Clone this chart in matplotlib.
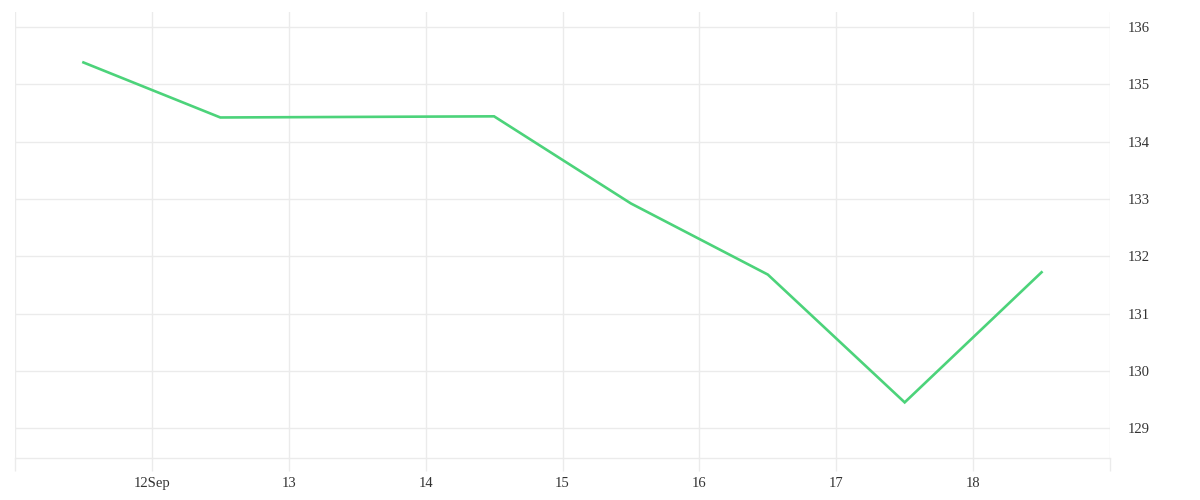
import matplotlib
matplotlib.use("Agg")
import matplotlib.pyplot as plt
import matplotlib.dates as mdates
import numpy as np
from datetime import datetime

# Data
dates = ["2023-09-11 12:00", "2023-09-12 12:00", "2023-09-13 12:00", "2023-09-14 12:00",
         "2023-09-15 12:00", "2023-09-16 12:00", "2023-09-17 12:00", "2023-09-18 12:00"]
values = [135.38, 134.42, 134.43, 134.44, 132.92, 131.68, 129.45, 131.72]
tick_days = ["2023-09-11", "2023-09-12", "2023-09-13", "2023-09-14", "2023-09-15",
             "2023-09-16", "2023-09-17", "2023-09-18", "2023-09-19"]
tick_labels = ["", "12Sep", "13", "14", "15", "16", "17", "18", ""]
y_ticks = [129, 130, 131, 132, 133, 134, 135, 136]

plt.rcParams['font.family'] = ['Liberation Serif', 'DejaVu Serif']

W, H = 1200, 500
fig = plt.figure(figsize=(W / 100, H / 100), dpi=100)
ax = fig.add_axes([15 / W, (H - 458) / H, (1110 - 15) / W, (458 - 12) / H])

x = [datetime.strptime(d, "%Y-%m-%d %H:%M") for d in dates]
xt = [datetime.strptime(d, "%Y-%m-%d") for d in tick_days]

grid_c = "#ebebeb"
ax.plot(x, values, color="#4cd37a", lw=1.9, solid_joinstyle="miter", zorder=3)

ax.set_xlim(xt[0], xt[-1])
ax.set_ylim(128.48, 136.26)
ax.set_xticks(xt)
ax.set_xticklabels(tick_labels)
ax.set_yticks(y_ticks)
ax.set_yticklabels([str(v) for v in y_ticks])
ax.yaxis.tick_right()

ax.grid(True, color=grid_c, lw=1)
for s in ["top", "left", "right"]:
    ax.spines[s].set_visible(False)
ax.spines["bottom"].set_color(grid_c)
ax.spines["bottom"].set_linewidth(1)

ax.tick_params(axis="x", length=9, width=1, color=grid_c, direction="out",
               pad=5, labelsize=10.5, labelcolor="#333333")
ax.tick_params(axis="y", length=0, pad=13, labelsize=10.5, labelcolor="#333333")

fig.savefig("out.png", dpi=100, facecolor="white")
